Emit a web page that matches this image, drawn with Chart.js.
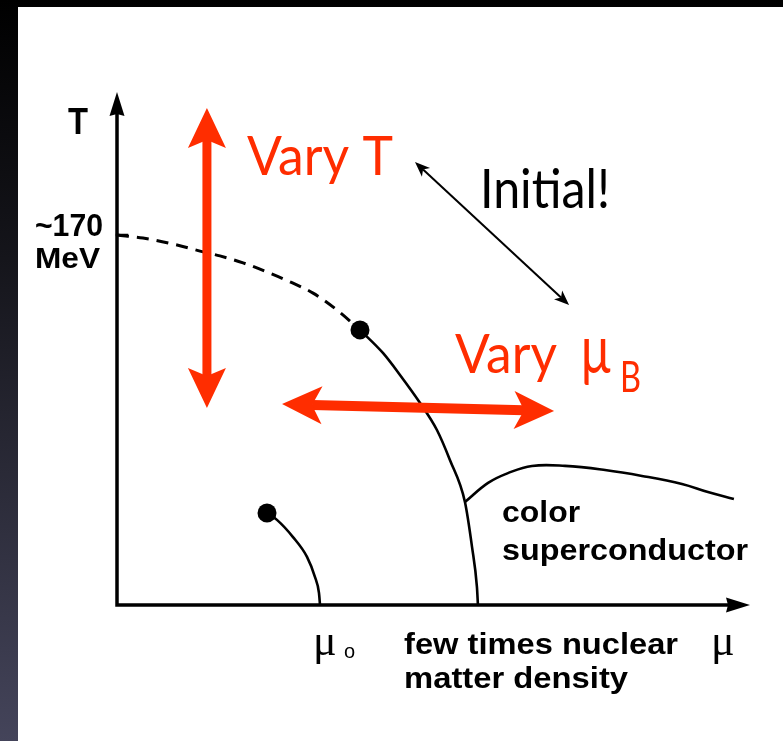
<!DOCTYPE html>
<html>
<head>
<meta charset="utf-8">
<script src="https://cdn.jsdelivr.net/npm/chart.js@4.4.0/dist/chart.umd.min.js"></script>
<style>
  html, body { margin: 0; padding: 0; background: #000; }
  #wrap { width: 783px; height: 741px; }
</style>
</head>
<body>
<div id="wrap"><canvas id="fase" width="783" height="741"></canvas></div>
<script>
// mu en unidades de mu0, T en MeV
const crossoverMu = [0, 0.128, 0.296, 0.409, 0.507, 0.621, 0.739, 0.852, 0.966, 1.084, 1.197];
const crossoverT  = [170, 168.6, 165.4, 162.6, 160.4, 157.2, 153.0, 148.5, 143.3, 135.5, 126.4];

const primerOrdenMu = [1.197, 1.310, 1.394, 1.493, 1.576, 1.640, 1.714, 1.749, 1.773, 1.778];
const primerOrdenT  = [126.4, 115.8, 105.7, 92.8, 80.4, 66.6, 47.3, 26.6, 8.3, 0];

const superMu = [1.714, 1.828, 1.926, 2.044, 2.207, 2.404, 2.586, 2.783, 2.911, 3.039];
const superT  = [47.3, 56.1, 60.6, 63.9, 63.9, 62.0, 59.3, 55.6, 51.9, 48.7];

const nuclearMu = [0.739, 0.788, 0.867, 0.936, 0.975, 0.995, 1.0];
const nuclearT  = [42.3, 39.1, 31.2, 22.1, 12.9, 5.5, 0];

const criticoMu = [1.197, 0.739];
const criticoT  = [126.4, 42.3];

// flechas: [mu inicio, T inicio, mu fin, T fin]
const flechaVaryT  = [0.443, 228.3, 0.443, 90.5];
const flechaVaryMu = [0.813, 92.3, 2.153, 89.1];
const flechaInicial = [1.468, 203.5, 2.227, 137.8];

const muMax = 3.133;
const tMax = 235.7;

const ROJO = "#ff2d00";
const SANS = "'Liberation Sans', Arial, sans-serif";
const GILL = "Lato, 'Open Sans', sans-serif";
const SERIF = "'Liberation Serif', 'DejaVu Serif', serif";

// textos: [texto, mu, T, fuente, color, ancho]
const textos = [
  ["T", -0.241, 216.4, "bold 37px " + SANS, "#000", 20],
  ["~170", -0.404, 169.5, "bold 31px " + SANS, "#000", 68],
  ["MeV", -0.404, 154.8, "bold 30px " + SANS, "#000", 65],
  ["Vary T", 0.640, 197.6, "54px " + GILL, ROJO, 146],
  ["Initial!", 1.788, 182.4, "55px " + GILL, "#000", 130],
  ["Vary", 1.665, 106.6, "54px " + GILL, ROJO, 102],
  ["\u00b5", 2.281, 106.6, "68px " + GILL, ROJO, 32],
  ["B", 2.478, 97.9, "42px " + GILL, ROJO, 21],
  ["color", 1.897, 38.1, "bold 29px " + SANS, "#000", 78],
  ["superconductor", 1.897, 20.7, "bold 29px " + SANS, "#000", 246],
  ["few times nuclear", 1.414, -22.5, "bold 30px " + SANS, "#000", 274],
  ["matter density", 1.414, -38.1, "bold 30px " + SANS, "#000", 224],
  ["\u03bc", 0.966, -23.0, "44px " + SERIF, "#000", 0],
  ["o", 1.118, -24.4, "20px " + SANS, "#000", 0],
  ["\u03bc", 2.926, -23.0, "44px " + SERIF, "#000", 0]
];

function aPuntos(xs, ys) {
  return xs.map((x, i) => ({ x: x, y: ys[i] }));
}

function cabeza(ctx, x1, y1, x2, y2, largo, ancho, muesca) {
  const ang = Math.atan2(y2 - y1, x2 - x1);
  ctx.save();
  ctx.translate(x2, y2);
  ctx.rotate(ang);
  ctx.beginPath();
  ctx.moveTo(0, 0);
  ctx.lineTo(-largo, ancho);
  ctx.lineTo(-largo + muesca, 0);
  ctx.lineTo(-largo, -ancho);
  ctx.closePath();
  ctx.fill();
  ctx.restore();
}

function flechaDoble(ctx, a, b, c, d, grosor, largo, ancho, muesca, color) {
  const ang = Math.atan2(d - b, c - a);
  const dx = Math.cos(ang) * (largo - muesca), dy = Math.sin(ang) * (largo - muesca);
  ctx.strokeStyle = color;
  ctx.fillStyle = color;
  ctx.lineWidth = grosor;
  ctx.beginPath();
  ctx.moveTo(a + dx, b + dy);
  ctx.lineTo(c - dx, d - dy);
  ctx.stroke();
  cabeza(ctx, a, b, c, d, largo, ancho, muesca);
  cabeza(ctx, c, d, a, b, largo, ancho, muesca);
}

function texto(ctx, t, x, y, fuente, color, ancho) {
  ctx.save();
  ctx.font = fuente;
  ctx.fillStyle = color;
  ctx.textBaseline = "alphabetic";
  ctx.translate(x, y);
  if (ancho) {
    const w = ctx.measureText(t).width;
    ctx.scale(ancho / w, 1);
  }
  ctx.fillText(t, 0, 0);
  ctx.restore();
}

const fondo = {
  id: "fondo",
  beforeDraw(chart) {
    const ctx = chart.ctx;
    const g = ctx.createLinearGradient(0, 0, 0, chart.height);
    g.addColorStop(0, "#000000");
    g.addColorStop(0.35, "#15151b");
    g.addColorStop(1, "#44445a");
    ctx.save();
    ctx.fillStyle = g;
    ctx.fillRect(0, 0, chart.width, chart.height);
    ctx.fillStyle = "#ffffff";
    ctx.fillRect(18, 7, chart.width - 18, chart.height - 7);
    ctx.restore();
  }
};

const ejes = {
  id: "ejes",
  beforeDatasetsDraw(chart) {
    const ctx = chart.ctx;
    const x = chart.scales.x, y = chart.scales.y;
    const x0 = x.getPixelForValue(0), y0 = y.getPixelForValue(0);
    const xFin = x.getPixelForValue(muMax) - 3, yFin = y.getPixelForValue(tMax);
    ctx.save();
    ctx.strokeStyle = "#000";
    ctx.fillStyle = "#000";
    ctx.lineWidth = 3.5;
    ctx.lineCap = "square";
    ctx.beginPath();
    ctx.moveTo(x0, yFin + 20);
    ctx.lineTo(x0, y0);
    ctx.lineTo(xFin - 20, y0);
    ctx.stroke();
    cabeza(ctx, x0, y0, x0, yFin, 24, 7.5, 2);
    cabeza(ctx, x0, y0, xFin, y0, 24, 7.5, 2);
    // marca en ~170 MeV
    ctx.lineWidth = 2.5;
    ctx.beginPath();
    ctx.moveTo(x0, y.getPixelForValue(170));
    ctx.lineTo(x0 + 10, y.getPixelForValue(170));
    ctx.stroke();
    ctx.restore();
  }
};

const anotaciones = {
  id: "anotaciones",
  afterDatasetsDraw(chart) {
    const ctx = chart.ctx;
    const x = chart.scales.x, y = chart.scales.y;
    const p = f => [x.getPixelForValue(f[0]), y.getPixelForValue(f[1]), x.getPixelForValue(f[2]), y.getPixelForValue(f[3])];
    ctx.save();
    flechaDoble(ctx, ...p(flechaVaryT), 9, 40, 19, 8, ROJO);
    flechaDoble(ctx, ...p(flechaVaryMu), 10, 40, 19, 10, ROJO);
    flechaDoble(ctx, ...p(flechaInicial), 2, 15, 6, 4, "#000");
    textos.forEach(t => {
      texto(ctx, t[0], x.getPixelForValue(t[1]), y.getPixelForValue(t[2]), t[3], t[4], t[5]);
    });
    ctx.restore();
  }
};

const linea = (datos, extra) => Object.assign({
  data: datos,
  showLine: true,
  borderColor: "#000",
  borderWidth: 2.6,
  pointRadius: 0,
  cubicInterpolationMode: "monotone",
  clip: false
}, extra || {});

new Chart(document.getElementById("fase").getContext("2d"), {
  type: "scatter",
  data: {
    datasets: [
      linea(aPuntos(crossoverMu, crossoverT), { borderDash: [12, 8], borderWidth: 3 }),
      linea(aPuntos(primerOrdenMu, primerOrdenT)),
      linea(aPuntos(superMu, superT), { cubicInterpolationMode: "default", tension: 0.4 }),
      linea(aPuntos(nuclearMu, nuclearT)),
      {
        data: aPuntos(criticoMu, criticoT),
        showLine: false,
        pointRadius: 9.5,
        pointBackgroundColor: "#000",
        pointBorderWidth: 0,
        clip: false
      }
    ]
  },
  options: {
    responsive: false,
    animation: false,
    layout: { padding: { left: 117, right: 30, top: 92, bottom: 136 } },
    plugins: { legend: { display: false }, tooltip: { enabled: false } },
    scales: {
      x: { type: "linear", display: false, min: 0, max: muMax },
      y: { type: "linear", display: false, min: 0, max: tMax }
    }
  },
  plugins: [fondo, ejes, anotaciones]
});
</script>
</body>
</html>
